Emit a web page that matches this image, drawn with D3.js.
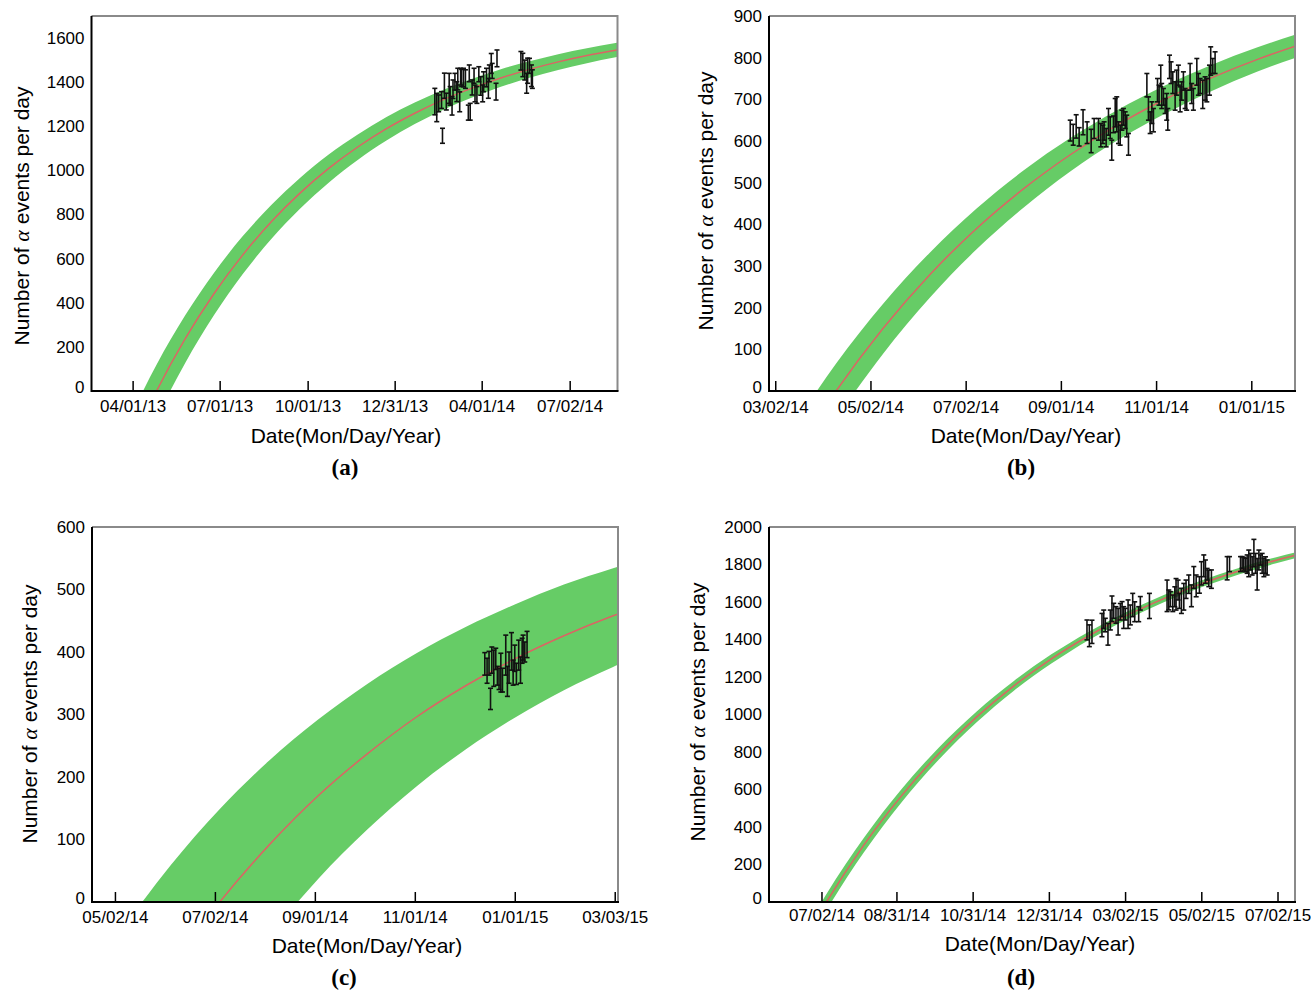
<!DOCTYPE html>
<html>
<head>
<meta charset="utf-8">
<script src="https://cdn.jsdelivr.net/npm/d3@7"></script>
<style>
body { margin: 0; background: #fff; }
text { font-family: "Liberation Sans", Arial, sans-serif; fill: #000; }
</style>
</head>
<body>
<svg id="chart" width="1311" height="990"></svg>
<script>
// ---- panel (a) ----
var xTicksA = ["2013-04-01", "2013-07-01", "2013-10-01", "2013-12-31", "2014-04-01", "2014-07-02"];
var yTicksA = [0, 200, 400, 600, 800, 1000, 1200, 1400, 1600];
var fitDatesA = ["2013-03-27", "2013-04-26", "2013-05-26", "2013-06-25", "2013-07-25", "2013-08-24", "2013-09-23", "2013-10-23", "2013-11-22", "2013-12-22", "2014-01-21", "2014-02-20", "2014-03-22", "2014-04-21", "2014-05-21", "2014-06-20", "2014-07-20", "2014-08-19", "2014-09-18"];
var fitMidA = [-275, 0, 237, 441, 616, 767, 897, 1009, 1105, 1188, 1259, 1321, 1373, 1419, 1458, 1492, 1521, 1545, 1567];
var fitHiA = [-141, 119, 343, 535, 701, 843, 966, 1072, 1162, 1241, 1308, 1366, 1415, 1459, 1495, 1527, 1554, 1578, 1598];
var fitLoA = [-416, -124, 127, 343, 529, 689, 826, 944, 1046, 1134, 1210, 1275, 1330, 1379, 1420, 1455, 1486, 1513, 1535];
// days after 2014-01-01
var dayA = [41, 43, 45, 48, 49, 51, 53, 56, 57, 59, 60, 62, 64, 65, 67, 68, 69, 71, 73, 76, 77, 78, 80, 82, 83, 85, 87, 89, 91, 92, 95, 97, 98, 100, 101, 105, 106, 131, 133, 135, 137, 138, 140, 142, 143];
var valA = [1312, 1285, 1304, 1319, 1157, 1384, 1312, 1372, 1338, 1293, 1368, 1402, 1357, 1414, 1311, 1425, 1419, 1421, 1414, 1262, 1440, 1266, 1376, 1429, 1349, 1342, 1436, 1383, 1349, 1402, 1421, 1372, 1440, 1485, 1451, 1357, 1508, 1497, 1478, 1455, 1395, 1452, 1474, 1429, 1414];
var errA = [60, 64, 38, 38, 34, 57, 38, 68, 42, 42, 42, 38, 45, 49, 45, 38, 39, 42, 42, 34, 38, 38, 34, 34, 38, 38, 34, 42, 38, 45, 42, 45, 38, 45, 34, 38, 38, 42, 53, 45, 45, 57, 34, 49, 42];

// ---- panel (b) ----
var xTicksB = ["2014-03-02", "2014-05-02", "2014-07-02", "2014-09-01", "2014-11-01", "2015-01-01"];
var yTicksB = [0, 100, 200, 300, 400, 500, 600, 700, 800, 900];
var fitDatesB = ["2014-03-11", "2014-04-10", "2014-05-10", "2014-06-09", "2014-07-09", "2014-08-08", "2014-09-07", "2014-10-07", "2014-11-06", "2014-12-06", "2015-01-05", "2015-02-04"];
var fitMidB = [-174, 0, 150, 279, 390, 485, 567, 638, 699, 751, 796, 835];
var fitHiB = [-100, 66, 209, 332, 438, 529, 607, 674, 732, 782, 825, 862];
var fitLoB = [-251, -68, 89, 224, 340, 440, 527, 601, 664, 719, 767, 807];
// days after 2014-09-01
var dayB = [6.0, 7.9, 9.8, 11.7, 14.2, 16.8, 19.4, 21.3, 24.1, 25.6, 26.9, 27.7, 29.0, 30.5, 31.6, 32.6, 33.7, 34.8, 35.8, 36.9, 38.0, 39.1, 40.1, 41.2, 42.2, 43.3, 55.1, 56.1, 57.2, 58.3, 59.3, 61.9, 62.9, 64.0, 64.6, 65.7, 66.8, 67.8, 68.5, 69.6, 70.6, 71.7, 73.2, 74.2, 75.3, 76.4, 77.4, 78.5, 79.6, 80.6, 82.8, 83.8, 84.9, 87.1, 88.1, 89.2, 90.9, 92.4, 93.5, 95.2, 96.0, 97.3, 98.8];
var valB = [625, 615, 635, 610, 645, 620, 600, 630, 628, 614, 616, 624, 608, 646, 632, 578, 640, 668, 664, 620, 614, 650, 658, 650, 636, 592, 734, 678, 644, 668, 650, 722, 710, 756, 708, 706, 684, 682, 652, 778, 764, 740, 708, 740, 758, 700, 720, 744, 702, 698, 754, 714, 700, 766, 736, 732, 712, 726, 722, 746, 792, 780, 788];
var errB = [25, 25, 28, 22, 30, 26, 28, 24, 26, 28, 22, 22, 22, 32, 26, 24, 20, 34, 42, 26, 24, 24, 20, 20, 26, 26, 28, 28, 26, 26, 28, 28, 24, 26, 30, 20, 18, 32, 26, 28, 26, 26, 34, 30, 24, 30, 22, 22, 24, 24, 32, 24, 26, 32, 26, 18, 34, 28, 28, 36, 34, 18, 26];

// ---- panel (c) ----
var xTicksC = ["2014-05-02", "2014-07-02", "2014-09-01", "2014-11-01", "2015-01-01", "2015-03-03"];
var yTicksC = [0, 100, 200, 300, 400, 500, 600];
var fitDatesC = ["2014-05-06", "2014-06-05", "2014-07-05", "2014-08-04", "2014-09-03", "2014-10-03", "2014-11-02", "2014-12-02", "2015-01-01", "2015-01-31", "2015-03-02", "2015-04-01"];
var fitMidC = [-229, -106, 0, 91, 170, 237, 296, 346, 389, 426, 458, 485];
var fitHiC = [-45, 59, 149, 226, 292, 349, 398, 440, 476, 508, 534, 558];
var fitLoC = [-435, -289, -164, -56, 37, 116, 185, 244, 295, 339, 376, 409];
// days after 2015-01-01
var dayC = [-18.3, -16.9, -15.7, -14.8, -14.0, -12.8, -11.6, -10.6, -9.6, -8.5, -7.5, -5.5, -4.5, -3.5, -2.0, -1.0, 0, 1.0, 2.4, 3.5, 4.5, 5.1, 6.1, 7.5];
var valC = [381, 370, 382, 325, 387, 374, 389, 362, 357, 367, 355, 395, 353, 375, 401, 367, 390, 365, 395, 371, 402, 407, 400, 412];
var errC = [18, 20, 19, 17, 21, 29, 17, 15, 17, 31, 19, 32, 24, 25, 30, 20, 21, 17, 24, 21, 20, 20, 16, 21];

// ---- panel (d) ----
var xTicksD = ["2014-07-02", "2014-08-31", "2014-10-31", "2014-12-31", "2015-03-02", "2015-05-02", "2015-07-02"];
var yTicksD = [0, 200, 400, 600, 800, 1000, 1200, 1400, 1600, 1800, 2000];
var fitDatesD = ["2014-06-06", "2014-07-06", "2014-08-05", "2014-09-04", "2014-10-04", "2014-11-03", "2014-12-03", "2015-01-02", "2015-02-01", "2015-03-03", "2015-04-02", "2015-05-02", "2015-06-01", "2015-07-01", "2015-07-31"];
var fitMidD = [-354, 0, 305, 566, 792, 986, 1153, 1297, 1420, 1527, 1618, 1697, 1765, 1823, 1873];
var fitHiD = [-305, 43, 343, 602, 824, 1015, 1179, 1321, 1442, 1547, 1638, 1715, 1782, 1839, 1889];
var fitLoD = [-403, -44, 265, 531, 760, 957, 1127, 1272, 1398, 1506, 1599, 1679, 1747, 1807, 1858];
// days after 2015-01-01
var dayD = [29.5, 31.4, 33.5, 41.5, 42.9, 44.2, 46.3, 48.2, 49.5, 50.9, 52.7, 54.4, 56.2, 57.6, 58.9, 60.2, 62.4, 64.2, 66.1, 67.7, 72.2, 70.9, 79.5, 93.6, 95.0, 96.3, 98.2, 99.8, 100.8, 102.4, 103.5, 105.1, 107.0, 108.8, 111.0, 113.1, 115.0, 116.9, 119.5, 121.1, 123.0, 124.3, 125.7, 127.0, 129.1, 141.7, 143.6, 152.4, 153.7, 155.0, 156.4, 157.7, 159.0, 160.4, 161.7, 163.1, 164.4, 165.7, 167.1, 168.4, 169.7, 171.1, 172.4, 173.7];
var valD = [1451, 1420, 1441, 1477, 1508, 1477, 1428, 1504, 1564, 1553, 1531, 1495, 1548, 1562, 1517, 1535, 1535, 1531, 1584, 1548, 1593, 1535, 1579, 1633, 1611, 1615, 1593, 1628, 1641, 1664, 1606, 1606, 1628, 1668, 1695, 1633, 1731, 1686, 1691, 1753, 1793, 1762, 1748, 1726, 1722, 1780, 1802, 1802, 1811, 1804, 1797, 1802, 1806, 1815, 1793, 1861, 1806, 1748, 1824, 1824, 1806, 1784, 1797, 1784];
var errD = [53, 58, 62, 62, 49, 36, 58, 53, 68, 40, 44, 71, 44, 40, 58, 31, 76, 53, 62, 53, 36, 40, 67, 84, 53, 40, 44, 53, 84, 53, 40, 67, 71, 49, 49, 58, 58, 58, 44, 62, 58, 62, 31, 44, 49, 62, 40, 40, 31, 34, 36, 49, 71, 44, 49, 73, 53, 84, 53, 27, 53, 49, 44, 40];

var parseDay = d3.utcParse("%Y-%m-%d");
var fmt = d3.utcFormat("%m/%d/%y");
var svg = d3.select("#chart");

var panels = [
    { id: "a", left: 91.5, right: 617.5, top: 16, bottom: 391, xMin: "2013-02-17", xMax: "2014-08-21", yMax: 1700,
      xTicks: xTicksA, yTicks: yTicksA, fitDates: fitDatesA, fitMid: fitMidA, fitHi: fitHiA, fitLo: fitLoA,
      ref: "2014-01-01", day: dayA, val: valA, err: errA, xPad: 9,
      yTitle: [22, 216], xTitle: [346, 436], tag: [345, 467] },
    { id: "b", left: 769, right: 1295, top: 16, bottom: 391, xMin: "2014-02-26", xMax: "2015-01-29", yMax: 900,
      xTicks: xTicksB, yTicks: yTicksB, fitDates: fitDatesB, fitMid: fitMidB, fitHi: fitHiB, fitLo: fitLoB,
      ref: "2014-09-01", day: dayB, val: valB, err: errB, xPad: 10,
      yTitle: [706, 201], xTitle: [1026, 436], tag: [1021, 467] },
    { id: "c", left: 92, right: 618, top: 527, bottom: 902, xMin: "2014-04-18", xMax: "2015-03-05", yMax: 600,
      xTicks: xTicksC, yTicks: yTicksC, fitDates: fitDatesC, fitMid: fitMidC, fitHi: fitHiC, fitLo: fitLoC,
      ref: "2015-01-01", day: dayC, val: valC, err: errC, xPad: 9,
      yTitle: [30, 714], xTitle: [367, 946], tag: [344, 977] },
    { id: "d", left: 769, right: 1295, top: 527, bottom: 902, xMin: "2014-05-21", xMax: "2015-07-16", yMax: 2000,
      xTicks: xTicksD, yTicks: yTicksD, fitDates: fitDatesD, fitMid: fitMidD, fitHi: fitHiD, fitLo: fitLoD,
      ref: "2015-01-01", day: dayD, val: valD, err: errD, xPad: 7,
      yTitle: [698, 712], xTitle: [1040, 944], tag: [1021, 977] }
];

function drawPanel(p) {
    var x = d3.scaleUtc()
        .domain([parseDay(p.xMin), parseDay(p.xMax)])
        .range([p.left, p.right]);
    var y = d3.scaleLinear()
        .domain([0, p.yMax])
        .range([p.bottom, p.top]);

    var g = svg.append("g").attr("class", "panel-" + p.id);

    g.append("clipPath").attr("id", "clip-" + p.id)
        .append("rect")
        .attr("x", p.left).attr("y", p.top)
        .attr("width", p.right - p.left).attr("height", p.bottom - p.top);

    var fit = p.fitDates.map(function (d, i) {
        return { date: parseDay(d), mid: p.fitMid[i], hi: p.fitHi[i], lo: p.fitLo[i] };
    });

    var plot = g.append("g").attr("clip-path", "url(#clip-" + p.id + ")");

    var band = d3.area()
        .curve(d3.curveMonotoneX)
        .x(function (d) { return x(d.date); })
        .y0(function (d) { return y(d.lo); })
        .y1(function (d) { return y(d.hi); });

    var line = d3.line()
        .curve(d3.curveMonotoneX)
        .x(function (d) { return x(d.date); })
        .y(function (d) { return y(d.mid); });

    plot.append("path").datum(fit)
        .attr("d", band)
        .attr("fill", "#66cc66");

    plot.append("path").datum(fit)
        .attr("d", line)
        .attr("fill", "none")
        .attr("stroke", "#dc6464")
        .attr("stroke-width", 1.5);

    // measured points, drawn as error bars only
    var ref = parseDay(p.ref);
    var pts = p.day.map(function (d, i) {
        return { date: new Date(ref.getTime() + d * 864e5), v: p.val[i], e: p.err[i] };
    });

    var bars = g.append("g")
        .attr("stroke", "#111")
        .attr("stroke-width", 1.6)
        .selectAll("g")
        .data(pts)
        .enter().append("g");

    bars.append("line")
        .attr("x1", function (d) { return x(d.date); })
        .attr("x2", function (d) { return x(d.date); })
        .attr("y1", function (d) { return y(d.v - d.e); })
        .attr("y2", function (d) { return y(d.v + d.e); });
    bars.append("line")
        .attr("x1", function (d) { return x(d.date) - 2.5; })
        .attr("x2", function (d) { return x(d.date) + 2.5; })
        .attr("y1", function (d) { return y(d.v + d.e); })
        .attr("y2", function (d) { return y(d.v + d.e); });
    bars.append("line")
        .attr("x1", function (d) { return x(d.date) - 2.5; })
        .attr("x2", function (d) { return x(d.date) + 2.5; })
        .attr("y1", function (d) { return y(d.v - d.e); })
        .attr("y2", function (d) { return y(d.v - d.e); });

    // axes
    var xAxis = g.append("g")
        .attr("transform", "translate(0," + p.bottom + ")")
        .call(d3.axisBottom(x)
            .tickValues(p.xTicks.map(parseDay))
            .tickFormat(fmt)
            .tickSizeInner(-10)
            .tickSizeOuter(0)
            .tickPadding(p.xPad));
    xAxis.select(".domain").remove();
    xAxis.selectAll(".tick line").attr("stroke", "#000").attr("stroke-width", 1.5);
    xAxis.selectAll("text")
        .style("font-family", "'Liberation Sans', Arial, sans-serif")
        .style("font-size", "17px")
        .attr("fill", "#000");

    var yAxis = g.append("g")
        .attr("transform", "translate(" + p.left + ",0)")
        .call(d3.axisLeft(y)
            .tickValues(p.yTicks)
            .tickFormat(d3.format("d"))
            .tickSize(0)
            .tickPadding(7));
    yAxis.select(".domain").remove();
    yAxis.selectAll("text")
        .style("font-family", "'Liberation Sans', Arial, sans-serif")
        .style("font-size", "17px")
        .attr("fill", "#000");
    // the bottom "0" sits just above the first date label, as in the figure
    yAxis.selectAll(".tick").filter(function (d) { return d === 0; })
        .select("text").attr("dy", "0.1em");

    // frame: grey top/right, black left/bottom
    g.append("path")
        .attr("d", "M" + p.left + "," + p.top + "H" + p.right + "V" + p.bottom)
        .attr("fill", "none")
        .attr("stroke", "#8a8a8a")
        .attr("stroke-width", 2);
    g.append("path")
        .attr("d", "M" + p.left + "," + p.top + "V" + p.bottom + "H" + (p.right + 1))
        .attr("fill", "none")
        .attr("stroke", "#000")
        .attr("stroke-width", 2);

    // titles
    var yt = g.append("text")
        .attr("transform", "translate(" + p.yTitle[0] + "," + p.yTitle[1] + ") rotate(-90)")
        .attr("text-anchor", "middle")
        .attr("dy", "0.35em")
        .style("font-size", "21px");
    yt.append("tspan").text("Number of ");
    yt.append("tspan")
        .style("font-family", "'Liberation Serif', 'Times New Roman', serif")
        .style("font-style", "italic")
        .style("font-size", "22px")
        .text("α");
    yt.append("tspan").text(" events per day");

    g.append("text")
        .attr("x", p.xTitle[0]).attr("y", p.xTitle[1])
        .attr("text-anchor", "middle")
        .attr("dy", "0.35em")
        .style("font-size", "21px")
        .text("Date(Mon/Day/Year)");

    g.append("text")
        .attr("x", p.tag[0]).attr("y", p.tag[1])
        .attr("text-anchor", "middle")
        .attr("dy", "0.35em")
        .style("font-family", "'Liberation Serif', 'Times New Roman', serif")
        .style("font-weight", "bold")
        .style("font-size", "23px")
        .text("(" + p.id + ")");
}

panels.forEach(drawPanel);
</script>
</body>
</html>
